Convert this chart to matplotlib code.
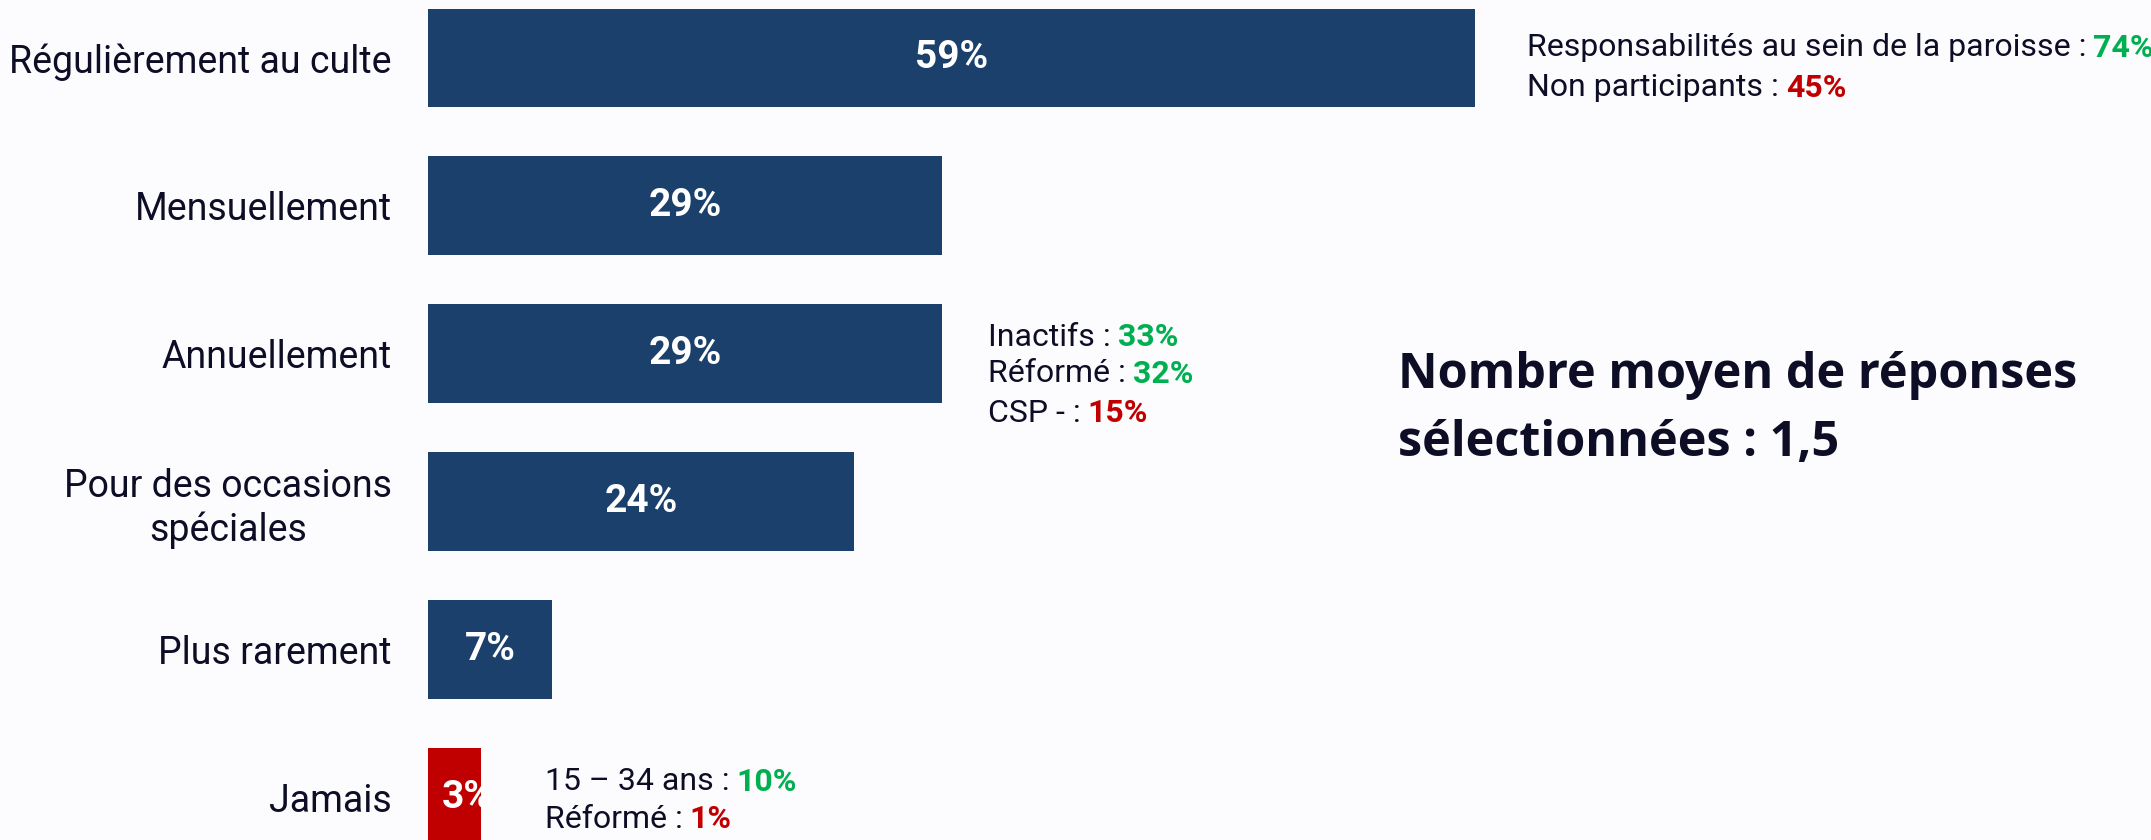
import matplotlib
matplotlib.use("Agg")
import matplotlib.pyplot as plt

categories = ["Régulièrement au culte", "Mensuellement", "Annuellement",
              "Pour des occasions\nspéciales", "Plus rarement", "Jamais"]
values = [59, 29, 29, 24, 7, 3]
bar_colors = ["#1B406B", "#1B406B", "#1B406B", "#1B406B", "#1B406B", "#C00000"]

# sub-group notes: (label, value, colour)
notes_top = [("Responsabilités au sein de la paroisse :", "74%", "#00B050"),
             ("Non participants :", "45%", "#C00000")]
notes_annuel = [("Inactifs :", "33%", "#00B050"),
                ("Réformé :", "32%", "#00B050"),
                ("CSP - :", "15%", "#C00000")]
notes_jamais = [("15 – 34 ans :", "10%", "#00B050"),
                ("Réformé :", "1%", "#C00000")]

bg = "#FCFCFE"
dark = "#0D0D26"
plt.rcParams["font.family"] = ["Roboto", "DejaVu Sans"]

W, H = 2151, 840
left_px = 428
px_per = 17.74
step = 147.8
c0 = 58

fig = plt.figure(figsize=(W / 100, H / 100), dpi=100, facecolor=bg)
ax = fig.add_axes([left_px / W, 0, 1 - left_px / W, 1])
ax.set_facecolor(bg)
ax.set_xlim(0, (W - left_px) / px_per)
ax.set_ylim((H - c0) / step, -c0 / step)

ypos = list(range(len(values)))
bars = ax.barh(ypos, values, height=98.8 / step, color=bar_colors)

for b, v in zip(bars, values):
    yc = b.get_y() + b.get_height() / 2
    if v < 5:
        # too narrow: label starts inside the bar and gets cut at its edge
        t = ax.text(0.75, yc, f"{v}%", ha="left", va="center", color="white",
                    fontsize=28, fontweight="bold")
    else:
        t = ax.text(v / 2, yc, f"{v}%", ha="center", va="center",
                    color="white", fontsize=28, fontweight="bold")
    t.set_clip_path(b)

ax.set_yticks(ypos)
ax.set_yticklabels(categories, fontsize=27, color=dark, linespacing=1.2)
for lab in ax.get_yticklabels():
    lab.set_multialignment("center")
ax.tick_params(axis="y", length=0, pad=26)
ax.tick_params(axis="x", bottom=False, labelbottom=False)
for s in ax.spines.values():
    s.set_visible(False)


def y_of(px):
    return (px - c0) / step


def x_of(px):
    return (px - left_px) / px_per


def two_tone(x, ypx, label, value, color):
    t = ax.text(x, y_of(ypx), label, fontsize=23, color=dark,
                ha="left", va="center")
    ax.annotate(value, xy=(1, 0.5), xycoords=t, xytext=(5, 0),
                textcoords="offset points", ha="left", va="center",
                fontsize=23, fontweight="bold", color=color)


for (lab, val, col), ypx in zip(notes_top, [48, 88]):
    two_tone(x_of(1527), ypx, lab, val, col)
for (lab, val, col), ypx in zip(notes_annuel, [337, 374, 413]):
    two_tone(x_of(988), ypx, lab, val, col)
for (lab, val, col), ypx in zip(notes_jamais, [782, 819]):
    two_tone(x_of(545), ypx, lab, val, col)

fig.text(1398 / W, 1 - 376 / H, "Nombre moyen de réponses", fontsize=35,
         fontweight="bold", color=dark, ha="left", va="center",
         family=["Open Sans", "DejaVu Sans"])
fig.text(1398 / W, 1 - 443 / H, "sélectionnées : 1,5", fontsize=35,
         fontweight="bold", color=dark, ha="left", va="center",
         family=["Open Sans", "DejaVu Sans"])

fig.savefig("out.png", dpi=100, facecolor=bg)
